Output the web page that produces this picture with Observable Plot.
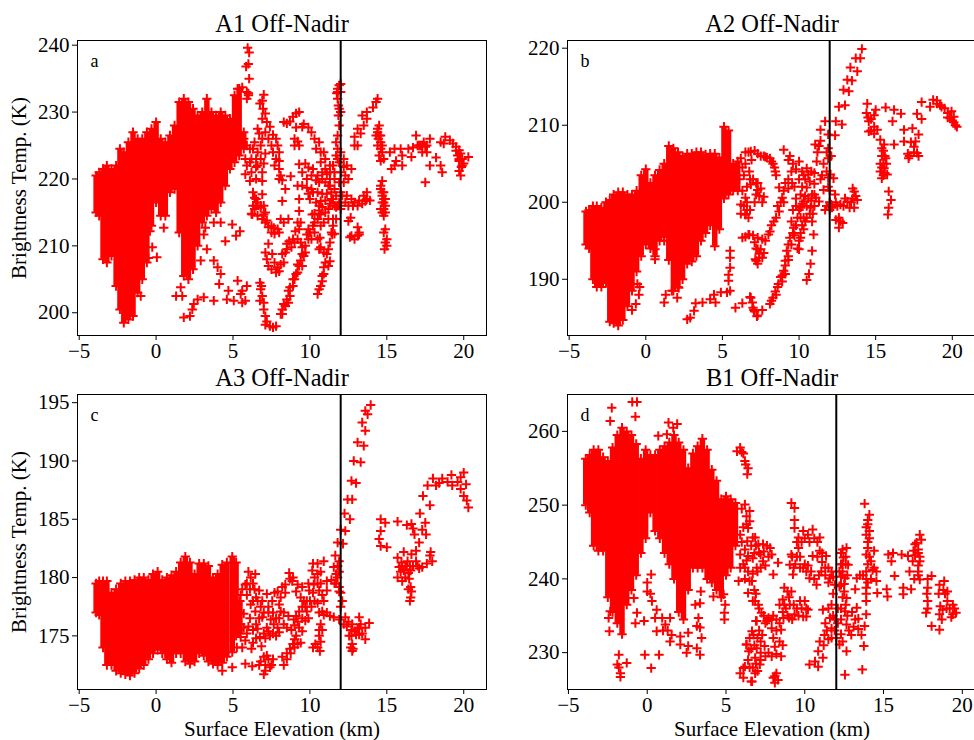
<!DOCTYPE html>
<html><head><meta charset="utf-8">
<script src="https://cdn.jsdelivr.net/npm/d3@7"></script>
<script src="https://cdn.jsdelivr.net/npm/@observablehq/plot@0.6"></script>
<style>html,body{margin:0;background:#fff;width:974px;height:740px;overflow:hidden}
#c{position:relative;width:974px;height:740px;overflow:hidden}
#c>div{position:absolute}#c svg{max-width:none!important;display:block}</style>
</head><body><div id="c"></div>
<script>
// Dense regions: [elevation, lowest temp, highest temp]
const a1Band=[[-3.9,215,220.5],[-3.7,214.5,221],[-3.45,208,221.5],[-3.2,207.5,222],[-2.9,208.5,221.5],[-2.6,204,222],[-2.35,200.5,224.5],[-2.1,198.5,224],[-1.8,199,225.5],[-1.5,199.5,227],[-1.2,203,226],[-0.9,205,226],[-0.6,207.5,227],[-0.3,213,227.5],[0,216.5,228.5],[0.3,214.5,226],[0.6,214.5,225.5],[0.9,218,226.5],[1.2,218.5,228],[1.5,212,231.5],[1.8,205.5,232],[2.1,205,231.5],[2.4,206.5,230.5],[2.7,210,229.5],[3,213.5,230],[3.3,214.5,232],[3.6,215.5,230],[3.9,215,229.5],[4.2,216.5,230],[4.5,219,229.5],[4.8,221.5,229],[5.1,222.5,232.5],[5.4,223.5,233.5],[5.7,224.5,227]];
const a1Points=[[5.95,239.6],[6.05,238.9],[5.85,236.8],[6,237.2],[6.05,235],[5.6,233.7],[5.3,233.5],[5.9,233],[6,232.5],[7,232.6],[6.9,231.7],[6.75,231.3],[6.95,230.5],[7.1,229.8],[6.9,229],[7.2,228.5],[7.4,227.8],[7.1,227],[6.7,226.8],[7.6,226.6],[7.8,226],[7.9,225],[8,224],[8,222.7],[8,221.5],[8.1,220.5],[8.3,228.5],[8.5,228.3],[8.7,228.6],[8.9,229.3],[9.1,229.8],[9.3,230],[9.1,227.7],[9.5,227.8],[9,225],[9.2,225.6],[9.3,225],[9,226],[9.6,228.2],[9.9,227.7],[10.1,227],[10.3,226],[10.6,225.5],[10.4,224.5],[10.7,224],[10.9,224],[11,223],[10.7,222.5],[11,221.5],[11.1,220.7],[11.3,220],[9.3,222.2],[9.7,222.3],[9.9,221.7],[10.2,221.5],[10.1,220.5],[10.4,219.8],[10.6,219.5],[11.8,233.5],[11.9,234],[12,234.2],[11.75,232.8],[11.8,232],[11.85,231],[11.9,230.5],[11.85,229.5],[12,230],[11.8,226.5],[11.7,225.5],[11.8,224.5],[11.7,223.5],[11.9,222.5],[12.2,221.8],[12.4,222],[12.7,221.5],[12.3,220.5],[12.2,219.5],[12.5,220],[12,221],[11.6,220],[11.9,219.5],[11.6,218.5],[12,218],[11.7,217.5],[11.9,216.5],[11.7,215.8],[12.1,217.5],[12.4,217.5],[12.7,217],[12.9,216.5],[13.2,216.8],[13.5,217.5],[13.7,218],[13.9,216.8],[13.4,216.3],[12.5,216],[10.2,218],[10.5,218],[10.8,217.8],[11.1,217.8],[11.4,218],[11.5,217],[11,216.8],[10.8,215.8],[11.2,215.5],[10.6,214.8],[10.3,214.8],[10.5,214],[11.5,214],[11.7,214],[12.65,214.2],[12.5,213.7],[13.1,212.8],[13.2,212],[13.1,211.5],[12.9,211],[12.7,211.5],[13.2,211.7],[12.6,211.3],[12.9,225],[13.1,225],[12.9,226.3],[13.3,226.8],[13.1,227.5],[13.5,228],[13.7,229],[13.4,229.5],[13.7,230],[14.1,230.7],[14.3,231.5],[14.4,232],[14.4,227],[14.3,226.5],[14.5,228],[14.45,226],[14.6,225.5],[14.4,225],[14.7,224],[14.5,223.5],[14.6,222.7],[14.8,223],[14.7,219.7],[14.6,218.5],[14.8,218],[14.7,217.5],[14.9,217],[14.7,216.5],[14.9,216],[14.8,215.5],[14.6,215.5],[14.8,214.5],[14.9,212.5],[14.8,212],[14.9,210.5],[15,210],[14.85,209.5],[15,211],[15.2,224],[15.5,224.5],[15.9,224.5],[15.6,222.7],[15.5,222],[15.3,221.5],[16,223.5],[16,222],[16.4,224.5],[16.7,224.7],[16.6,223.3],[17,225],[16.9,226.5],[17.2,225],[17.4,225.5],[17.6,224],[17.3,224],[17.8,226],[18.2,223.2],[18.5,222],[18.6,221],[17.8,222],[17.5,219.5],[18.5,225.5],[18.8,226.3],[18.7,225.3],[19.1,225.8],[19.3,225.3],[19.5,224.8],[19.7,224.3],[19.8,223.8],[19.9,223],[19.7,222.7],[20,222.3],[19.85,221.8],[19.7,221.2],[20.3,223.3],[19.8,220.5],[0.5,212.7],[0.05,208.3],[-0.5,208.2],[-0.25,209.8],[-0.4,212.2],[-1,202.5],[1.3,202.5],[1.6,203.8],[1.7,202.5],[2.9,207.8],[3.3,209.5],[3.75,207.8],[4,206.8],[4.2,205.8],[4.1,204.3],[3.75,201.8],[1.8,199.3],[2.2,199.5],[2.35,200.5],[2.7,202],[3.1,202.3],[2.45,201.3],[3.1,211.7],[3.2,212.7],[3.75,213.5],[4.2,213.5],[4.95,213.2],[5.45,212.2],[5.2,211.5],[4.5,210.7],[4.7,203.3],[5.3,204.8],[5.05,201.8],[4.6,202],[5.6,203.3],[5.9,204],[5.8,201.8],[5.6,201.5],[5.5,202.8],[6.75,201.8],[6.75,204.5],[6.8,203.5],[6.9,202.5],[6.85,204],[7,201.5],[7,200.5],[7.1,199.5],[7.2,198.7],[7.1,198.2],[7.4,198],[7.6,197.8],[7.8,198],[8.1,199.8],[8.2,199.8],[8.4,201],[8.5,202],[8.7,202.5],[8.6,203.3],[8.9,204],[9,205],[9.2,206],[9.3,207],[9.4,207.8],[9.5,208.8],[9.6,208.5],[9.7,210],[9.8,211.7],[9.9,211],[10,212],[10.15,214.7],[10.2,213],[10.7,216.7],[10.5,202.8],[10.7,204],[10.8,205.5],[10.9,206.8],[11.1,208.8],[11.3,210.5],[11.45,211.7],[10.65,211.2],[10.7,213],[10.7,214.7],[7.9,206.8],[7.55,208.8],[7.3,210.3],[8.2,208.8],[7.7,207.5],[8.1,207.2],[8.65,210.7],[8.9,211],[8.5,210.3],[9.05,212.2],[7.65,212.7],[8.1,214],[7,214.7],[6.4,217.2],[6.25,214.7],[6.8,215.7],[8.75,220.4],[8.4,218.5],[8.2,216.7],[6.9,219.7],[6.9,217.7],[6.1,219.7],[5.8,220.7],[9.3,215.2],[9.2,213.5],[9.3,217],[9.2,219],[7.1,213.5],[7.5,212],[7.9,212.5],[6.5,216],[6.6,214.5],[6.1,222.5],[6.6,222],[6.3,224.5],[6.8,225],[6.5,223],
[5.7,226],[5.9,225],[6.1,224.5],[6.4,225.5],[5.8,223],[6.2,223],[6.6,224],[6.8,223],[7,222.3],[6.5,221.8],[6.9,221],[5.9,222],[6.2,221],[6.5,220],[7.1,223.8],[6.6,227.5],[6.9,226],[7.3,226],[7.5,225],[7.6,224],[7.8,223],[7.7,222],[8,220],[8.2,219.8],[6.3,218],[6.5,217],[6.3,216],[6.4,215.5],[6.2,214.8],[6.6,216.5],[6.8,216],[7,216],[7.1,215],[6.9,214],[7.2,213.8],[7.3,212.8],[7.5,213],[7.7,211.8],[8,212],[8.3,213.5],[8.6,214],[7.1,209],[7.2,208],[7.3,207],[7.5,206.5],[7.8,206],[8,206.2],[8.3,207.5],[8.4,209],[8.5,209.5],[8.8,209.8],[9,210.5],[9.2,211],[9.3,212.5],[9.4,213.5],[10.8,221],[11,219.5],[11.3,219],[10.8,220],[10.5,220.5],[9.5,221],[9.8,220],[9.5,219],[9.8,218.7],[9.9,217.8],[10,217],[10.1,218.5],[10.4,216.5],[10.6,216],[11,215],[11.3,216.3],[11.6,216],[11.2,214],[10.9,213.5],[10.3,212],[10.5,211],[10.6,209.5],[10.9,209],[10.7,209.8],[11.5,213],[11.4,212],[11.6,211.8],[11.2,209.5],[11.3,207.7],[11.2,207],[10.8,204.7],[10.6,203.5],[10.9,205.8],[11,207.5],[9.1,205.8],[9.2,207.2],[8.9,205],[8.7,203.8],[8.3,201.3],[8.6,201.5],[8.2,200.5],[9.5,207],[9.7,209],[9.9,212.5],[10.1,211],[10.3,213.5],[10.6,215.3],[9.5,209.8],[9.4,210.5],[11.8,223],[12,224],[12.2,223],[11.5,222],[11.3,222],[11.6,221],[11.3,221],[11.2,219],[11.4,217],[12,216],[11.8,216],[12,215.5],[12.3,216.5],[12.8,216],[13.1,216],[13.6,216.7],[13.7,217],[11.9,228],[11.8,233],[12,233],[14.5,226.5],[14.6,226.5],[14.4,227.5],[14.7,225],[14.6,224.5],[14.6,219],[14.7,218],[14.8,217],[14.9,215],[14.8,216.5],[14.7,215],[19.5,224.2],[19.7,223],[19.6,223.5],[19.9,222],[17.3,225],[17.1,225],[17.5,224.8],[17.6,225],[5.9,232],[6,232.8]];
const a2Band=[[-3.9,194.5,198.8],[-3.7,194,199],[-3.45,190,199.5],[-3.2,189,199.5],[-2.9,189,199.3],[-2.6,189.5,200],[-2.35,184.5,200.3],[-2.1,184.3,201],[-1.8,184,201.3],[-1.5,184.7,201.3],[-1.2,186.5,201],[-0.9,188.5,201],[-0.6,191,201.5],[-0.3,193,203.5],[0,194.5,204.3],[0.3,194,202.5],[0.6,193,203.5],[0.9,195,204.2],[1.2,195.5,205],[1.5,192.5,207.3],[1.8,188.5,207],[2.1,189,206.5],[2.4,190,206],[2.7,192,206.3],[3,192.3,206.3],[3.3,193,206.5],[3.6,195,206.5],[3.9,196,206.2],[4.2,197,206.3],[4.5,194.3,206.3],[4.8,196.5,205.8],[5.1,200.5,209.8],[5.4,201,209.3],[5.7,201.5,205],[6,201.5,205.3]];
const a2Points=[[-0.55,189.4],[-0.45,188],[-0.65,186.8],[-0.9,186],[-0.4,189],[0.6,192.6],[0.6,193.9],[1.2,195],[1.2,187],[1.3,188],[1.7,188.5],[2.05,187.6],[2.15,188.9],[2.9,185],[2.7,184.8],[3.15,185.9],[3.25,186.9],[3.7,187],[4.2,187.4],[4.55,187],[4.45,188],[4.9,188.3],[5.3,188.3],[5.5,188.5],[5.4,189.8],[5.5,191.5],[5.5,192.8],[5.5,193.7],[5.4,190.6],[5.85,186.3],[6.3,186.9],[6.85,187.6],[7,186.3],[7.3,185.3],[6.95,187],[7.1,185.8],[6.8,187.7],[7.05,186],[7.25,185.2],[7.6,186],[6.3,195.4],[6.75,195.8],[7.3,195.4],[7.2,192.4],[7.3,193.9],[6.2,199.7],[6.5,198.4],[6.5,200.6],[6.75,204],[6.85,206.6],[6.2,205.7],[6.85,202.3],[7.3,201.6],[6.4,203.5],[6.8,199],[6.5,206.5],[7.1,206.7],[7.5,206],[8.1,205.7],[8.45,204],[8.3,205],[7.8,205.9],[7.3,202.5],[7.4,200.8],[6.6,200],[6.5,198.4],[6.7,195.8],[7.6,195.2],[8,195.8],[8.35,197.5],[8.7,198.8],[8.9,200.6],[8.7,201.9],[9.1,202.5],[9.55,202.5],[7.4,192.8],[7.5,193.9],[7.7,193.4],[7.15,192.6],[9,206.8],[9.3,205.5],[10,205.3],[10.5,204.4],[9.5,204],[10.5,201.9],[10.85,201],[10.3,200.1],[10.75,199.3],[11.3,200.1],[10.1,199.3],[10.4,203],[10.7,202.7],[11,202.4],[10.2,204],[11,203.8],[10.6,200.5],[11,199.5],[9.9,198],[9.65,196.7],[9.4,195.4],[9.2,193.7],[9.1,192.4],[9,191.1],[8.8,190.3],[8.65,189.4],[8.3,187.6],[8.45,188.4],[8.1,186.8],[10,193.9],[10.1,195.4],[9.8,197],[10.2,197],[10.85,197.5],[10.5,198],[10.95,195.8],[10.85,193.7],[10.75,192],[10.65,190.7],[10.5,189.9],[11.05,207.5],[11.4,209.4],[11.7,210.5],[11.9,208.8],[11.15,205.3],[11.9,205.7],[12.05,203.6],[12.25,203.1],[11.6,201.6],[11.9,202],[12,200],[11.8,206.5],[12.35,208.7],[12.4,210.5],[12.8,210.1],[12.6,212.4],[13,212.6],[12.9,214.6],[13.25,214.4],[13.15,215.9],[13.45,215.8],[13.35,217.5],[13.8,217],[13.7,218.7],[14,218.7],[14.1,219.9],[12.35,201],[12.7,199.7],[13.15,200.1],[13.6,201.4],[13.8,200.3],[13.6,199.3],[12.6,198],[12.85,197.3],[12.6,196.7],[12.15,199.3],[12.4,200],[13,200.5],[14.45,212.8],[14.4,211.6],[14.55,210.5],[14.55,209.2],[14.9,211.3],[15,212],[15.65,212.3],[15.1,209.4],[14.9,209.8],[15.3,208.1],[15.55,207.5],[15.65,205.7],[15.5,206.7],[15.55,204.4],[15.4,203.1],[15.3,204],[15.75,203.6],[15.7,205],[15.85,201.4],[16,200.3],[15.85,199.3],[15.8,198.4],[16.2,207.5],[16.1,210.5],[16.2,212],[16.65,211.5],[16.85,209.4],[16.85,207.9],[17.15,205.7],[17.4,209.6],[17.6,207.9],[17.8,208.8],[17.7,206.4],[17.3,207.8],[17.1,206.3],[17.7,211.5],[18,210.8],[18,213],[18.55,212.4],[18.75,213.3],[19,213.2],[19.2,212.6],[19.5,212.2],[19.95,211.8],[20.1,211.1],[20.3,209.8],[19.85,210.9],[19.7,211.6],[20.1,210.4],
[6.1,203],[6.3,204.5],[6.5,205],[6.6,202],[6.8,203],[7,203],[7.2,202.5],[7.5,201.8],[6.3,201.5],[6.4,199.5],[6.2,198.5],[6.7,198],[6.6,199],[7.1,200],[7.2,201],[7.7,200.7],[7.6,200],[6.9,205.5],[6.7,206.5],[7.3,206.3],[7.7,206],[7.9,205.8],[8.2,205.3],[8.4,204.5],[8.5,203.5],[6.5,195.5],[7,195.7],[7.1,194.8],[7.2,194],[7.4,193.3],[7.6,192.8],[7.3,192],[7.8,195],[8.1,196.2],[8.2,197],[8.5,198],[8.6,199.5],[8.8,200],[9,201.5],[9,200],[9.3,201.8],[9.3,203],[9.7,202],[9.5,197.5],[9.6,196],[9.3,194.5],[9.3,193],[9.1,191.8],[8.9,190.5],[8.6,189],[8.5,188],[8.2,187.2],[8.9,189.7],[9.1,190.7],[9.3,192.5],[9.5,194.5],[10,199],[10.2,199.8],[10.4,200.8],[10.5,199.5],[10.8,200.2],[11,201],[11.1,200.6],[10.7,198.5],[10.9,198.5],[10.3,198],[10.1,198],[10.3,196.5],[10.4,197.5],[10.1,196],[10,195],[9.9,194],[9.7,195.7],[9.6,199],[9.8,199.5],[9.8,200.5],[10.1,201],[10.2,202],[10,203],[9.8,204.3],[10.3,203.5],[10.6,203.6],[10.8,204],[9.6,205],[9.4,206],[11.2,206.5],[11.3,207.3],[11.4,208],[11.5,203.5],[11.6,205],[11.4,203],[11.9,207],[11.8,204],[11.9,203.2],[12.1,206],[12,201.5],[11.8,199.5],[11.7,199],[12,199],[12.1,199.7],[12.5,199.5],[12.9,199.5],[13.3,199.3],[13.4,200],[13.5,200.5],[13.7,200.8],[13.5,201.8],[12.4,197.7],[12.7,197.5],[15.4,207],[15.4,206],[15.6,206],[15.3,205],[15.5,205],[15.6,203.8],[15.4,204.5],[15.5,203.5],[14.5,211],[14.7,210.8],[14.7,209.3],[14.9,208.9],[17.5,207.2],[17.8,206],[17.5,206.5],[17.2,206],[19,212.8],[19.3,212.4],[19.7,211],[19.9,211],[20,210.6],[20.2,210]];
const a3Band=[[-3.9,177,179.5],[-3.7,176.8,179.7],[-3.45,174,179.7],[-3.2,172.5,179.7],[-2.9,172.5,178.7],[-2.6,172,179],[-2.3,171.8,179.5],[-2,171.7,179.7],[-1.7,171.6,179.7],[-1.4,171.8,179.8],[-1.1,172.2,180],[-0.8,172.5,180],[-0.5,173,179.8],[-0.2,173.5,180.3],[0.1,173.8,180.5],[0.4,173.5,179.8],[0.7,173,180],[1,172.7,180.2],[1.3,173.5,180.5],[1.6,173.5,181.3],[1.9,172.8,181.8],[2.2,172.6,181.3],[2.5,172.8,180.3],[2.8,173.5,181.2],[3.1,173.3,181.2],[3.4,172.8,181],[3.7,172.6,180],[4,172.5,180.3],[4.3,172.7,181.1],[4.6,173.2,181.3],[4.95,173.6,181.8],[5.2,175,181.3],[5.45,175.2,178]];
const a3Points=[[4.3,172],[4.95,172.3],[5.8,172.6],[6.25,172.4],[6.8,172.8],[7,173.2],[7.3,173],[7.6,173],[7.1,172],[7,171.7],[7.4,172.3],[6.7,172.5],[7.1,172.5],[7.5,172.5],[7.2,173.3],[8.3,172.5],[8.5,173],[8.75,173.5],[9,174],[9.2,174.3],[9.4,174.4],[9.5,175.4],[6.15,180],[5.8,179.4],[6.45,180.3],[6.3,179.5],[6,180.5],[6.7,178.9],[7.2,178.6],[6.9,178],[7.55,178],[7.3,177.5],[8,177.7],[8.2,179.2],[8.1,178.3],[8.1,177.1],[6.15,177.7],[6.45,177.1],[6.9,176.6],[7.65,176],[7.2,175.7],[6.75,174.9],[6.3,174.4],[6.85,174.1],[7.9,175.7],[8.3,176],[8.6,176.7],[8.95,176.4],[9.3,175.7],[5.7,175.7],[5.5,174.9],[5.25,174],[5.8,174.6],[5.7,176.9],[5.3,177.7],[6.6,175.6],[7.45,176.4],[7,175.2],[7.4,175],[5.9,178.5],[6.5,178.3],[8.65,180.4],[8.85,179.7],[9.2,179.4],[9.5,179.2],[9.95,178.9],[9.6,178],[9.3,177.1],[10,178],[9.8,177.1],[9.5,176.5],[10.25,179.4],[10.15,180.6],[10.5,181.2],[10.2,181.2],[10.9,181.4],[10.5,180.3],[10.6,178.9],[10.9,178],[11.1,178.9],[11.1,179.7],[11.55,180.9],[11.65,181.9],[11.9,181.4],[11.8,180],[11.9,179.2],[12.1,178],[12,178.7],[10.8,177.1],[11.1,177],[11.55,176.6],[11.9,176.4],[10.7,176],[10.6,175],[10.35,174.3],[10.65,173.7],[12.3,176.6],[12.75,176],[13.2,176.6],[13.1,175.6],[13.85,176.1],[13.6,175.7],[13.6,174.7],[12.55,175],[12.75,174.3],[12.75,173.7],[12.65,174],[13.2,175.1],[12.4,175.8],[11.8,183],[12.15,182.9],[12,184.1],[12.3,184],[12.25,185.5],[12.6,185],[12.45,186.7],[12.75,186.7],[12.7,188.3],[13,188.1],[12.85,190],[13.3,189.9],[13.1,191.6],[13.5,191.3],[13.4,193.3],[13.6,192.6],[13.6,194.3],[13.95,194.8],[13.75,194],[14.6,185],[14.9,184.7],[14.6,184],[14.5,183.3],[14.6,182.7],[15,182.6],[15.7,184.8],[16.3,184.5],[16.6,184.6],[16.8,183.7],[16.7,184.2],[17.3,184.1],[17.55,183.7],[17.5,184.7],[17.15,185.5],[17.1,183],[16.9,182.3],[15.7,181.7],[16.1,182.2],[16.35,181.4],[15.8,180.9],[16.1,180.6],[15.7,180],[16,179.7],[16.55,180.6],[16.9,181.4],[17.3,180.9],[17.85,182.2],[17.95,181.4],[16.55,179.2],[16.55,178.3],[16.45,179.9],[16.3,181],[15.95,181.3],[17.8,181.9],[16.6,182],[17.35,187],[17.8,186.2],[17.65,187.9],[18,188.5],[18.2,187.9],[18.6,188.5],[18.95,188.2],[19.2,188.8],[19.25,187.9],[19.8,188.6],[20,189],[20.15,188],[19.8,187.6],[20.2,186.6],[20.3,186],[20,187],[19.6,188.2],[18.4,188.1],
[5.5,178.5],[5.6,179],[5.9,179.5],[6.1,179],[6.4,179],[6.6,178],[6.3,178],[6.8,177.5],[7,177],[7.3,177],[7.6,177],[7.8,176.5],[7.7,178.7],[8,176.5],[7.9,178.8],[8.4,178.7],[8.3,177],[6.1,176.5],[6,175.8],[5.9,175.2],[6.3,175.5],[6.5,176],[6.7,176.5],[6.5,174.8],[6.2,173.9],[5.6,174],[5.5,176],[5.4,175.5],[5.4,177],[7.1,174.8],[7.3,175.4],[7.6,175.2],[7.8,175],[8,175.3],[8.5,175.7],[8.8,175.5],[9,175.9],[9.1,176.7],[9.2,176.2],[9.5,177.5],[9.7,177.5],[9.8,178],[9.9,179.5],[10.2,178.7],[10.3,178],[10.1,177.5],[9.9,176.5],[9.7,176.3],[9.4,178.3],[9.1,178.8],[8.9,180],[8.7,179.9],[8.4,179.4],[10.3,180],[10.5,179.5],[10.7,179.5],[10.7,180.5],[10.8,178.5],[10.5,177.8],[10.6,177],[10.9,176.8],[11.3,176.7],[10.8,175.5],[10.6,175.5],[10.7,174.5],[10.5,174],[10.2,174],[9,174.7],[8.5,173.5],[8.7,173.9],[9.1,175],[8.9,174.3],[8.2,173.2],[11.8,181],[11.7,180.3],[11.7,179.5],[11.9,178.8],[12,177.5],[11.6,179.5],[11.4,179.8],[11.9,180.5],[12.2,176],[12.5,176.2],[12.7,175.5],[12.9,175.4],[13,175.1],[13.3,176],[13.2,175.7],[13.4,175.2],[12.7,175],[12.8,173.9],[16.2,181],[16.2,180],[16.4,180.4],[16,181],[15.9,180.5],[16.5,181],[16.7,181],[16.4,179],[16.6,178.8],[16.5,178],[17,181],[17.1,180.8],[17.6,181.2]];
const b1Band=[[-3.9,250,256.3],[-3.65,249,256.8],[-3.4,244.5,257.5],[-3.1,243.8,257.5],[-2.8,243.8,256.5],[-2.5,237.5,256],[-2.2,235.5,257.8],[-1.9,234,259.5],[-1.6,232.5,260.5],[-1.3,236.5,260],[-1,238.5,259.5],[-0.7,240.5,258.3],[-0.4,243.5,256.3],[-0.1,245.5,257.5],[0.2,249,256.8],[0.5,246.5,256.8],[0.8,245.5,257.5],[1.1,243.5,258],[1.4,242,258.5],[1.7,240,259.5],[2,235.5,258.5],[2.3,234.5,257.5],[2.6,238.5,255],[2.9,241.5,257],[3.2,241.5,258],[3.5,241.5,259],[3.8,240,257.5],[4.1,239.5,254.8],[4.4,238.5,253.3],[4.7,237.5,250.8],[5,240.5,251.2],[5.3,241.5,250.8],[5.6,244.5,250.3]];
const b1Points=[[-2.25,263.2],[-0.95,264],[-0.65,264],[-0.75,262],[-2.35,261.4],[0.7,259.4],[1.25,259.6],[1.35,261.2],[1.9,261],[1.65,260.5],[5.9,257.8],[5.7,257.3],[6.1,257],[6.2,256],[6.4,255],[6.35,254.2],[6,257.2],[6.25,255.5],[-2.4,232.9],[-2.45,234.7],[-2.35,235.6],[-1.8,229.7],[-1.9,228.4],[-1.7,227.2],[-1.7,226.7],[-1.3,228.6],[-1.8,228],[-0.65,235.4],[-0.75,234],[-0.85,237.4],[-0.2,234.3],[-0.15,229.7],[0.75,229.7],[0.25,227.9],[0.25,240.6],[0,239.5],[0,238.3],[0.3,237],[0.6,235.8],[0.5,234.7],[0.95,234.7],[0.6,232.9],[1.15,233.8],[1.45,234.7],[1.55,232.4],[1.45,231.5],[1,233],[1.3,233],[0.2,238],[2.1,232.2],[2.1,231.1],[2.6,232.7],[2.6,230.9],[2.5,230],[3.15,230.6],[3.35,229.7],[3.45,232],[3.25,234.7],[3.35,233.4],[3.15,233.6],[3.35,236.7],[3.4,238.3],[3.05,236.5],[4.85,237.9],[4.95,236.5],[4.9,234.5],[4.9,235.4],[4.2,237.6],[5.9,227.2],[6.1,226.6],[6.65,226.1],[6.2,228.1],[6.45,230.2],[6.3,231.1],[6.65,232.9],[7,232],[6.9,234.3],[7.05,236.5],[6.3,247.4],[6.35,245.1],[6.85,245.6],[7.05,244.7],[6.4,243.1],[5.9,243.3],[5.9,241.5],[6.4,241],[6.95,241.5],[5.8,239.7],[6.65,239.7],[6.4,238.1],[6.85,237],[6.2,250.1],[6.5,249.2],[6.4,246.9],[6.7,245.6],[7.35,244.7],[7.8,244.2],[7.35,242.4],[7.9,243.3],[7,241],[6.2,241.5],[6.5,239.7],[8.3,242.2],[8,240.6],[6.7,237],[7.25,235.4],[6.95,234.3],[7.7,234.7],[7.9,233.3],[8.5,233.1],[8,232],[8.65,234.7],[8.4,236.5],[9.15,238.3],[8.7,238.8],[9.05,236.5],[9.7,237],[10.2,235.8],[9.9,234.9],[9.35,235.2],[8.8,236],[9.3,236.5],[6.3,231.1],[6.75,232.4],[6.95,230.6],[6.85,229.3],[7.15,228.4],[7.45,230.9],[7.9,229.5],[8.5,229.5],[8.4,231.5],[6.6,226.1],[6.1,227.9],[6.85,227.2],[8.1,226.8],[8.2,227.2],[8,226.6],[8.3,226.3],[8.1,225.9],[9.15,250.3],[9.35,249.6],[9.35,248],[9.35,246.9],[9.6,245.6],[9.9,246.5],[10.5,246.7],[10.2,246],[10.95,245.6],[9.6,244.2],[9.15,243.3],[9.05,241.9],[9.25,240.6],[9.9,241.5],[9.7,243],[10.3,240.1],[10.75,239.2],[10.1,241],[10.5,243.1],[10.95,243.8],[11.35,243.1],[11.5,241.5],[11.6,240.1],[11.9,239.2],[11.05,241],[11.7,236.5],[11.15,235.8],[11.6,234.7],[11.7,233.3],[11.25,232.4],[10.95,231.5],[11.9,233],[10.65,228.8],[10.3,228.4],[10.85,228.1],[11.15,229.3],[10.85,230.2],[12,232],[12.2,231.1],[12.65,230.2],[12.45,242.9],[12.65,244.2],[12.2,241],[12.55,240.1],[12.75,241.9],[12.3,239.2],[12.65,237.4],[12.55,235.6],[12.3,242],[12.5,238.3],[13.3,236.1],[13.2,234.5],[12.65,233.8],[12.95,232.4],[13.6,232.4],[13.8,233.6],[13.75,230.9],[12.55,227],[13.65,227.7],[13.8,250.2],[14.1,248.7],[14,247.4],[13.9,246],[14,244.2],[14.2,242.4],[14.4,243.8],[14.55,241],[14.55,239.7],[13.9,241],[13.9,238.8],[13.9,237],[13.9,235.2],[13.3,240.1],[13.2,238.6],[14.6,238.1],[15.2,238.6],[15.25,237.6],[15.3,243.3],[15.6,243.5],[15.5,242.4],[16.15,243.3],[16.55,243.1],[17,244.7],[17.3,246],[17.1,244.9],[17.4,245.3],[16.85,242.4],[17.3,242.4],[16.65,241],[17.2,241],[17.3,239.9],[16.75,238.6],[16.25,238.8],[16.25,237.9],[15.7,240.4],[18.05,240.4],[17.8,238.8],[17.8,237],[17.7,235.4],[18.05,233.6],[18.55,233.1],[18.55,235.2],[18.55,239.2],[18.85,239.7],[19.05,238.3],[19.05,237],[18.75,235.8],[19.4,236.5],[19.6,235.4],[19.4,235.2],[19.2,236],
[6,249.5],[6.3,248.5],[6.1,247],[6.5,247.8],[5.9,246],[6,245],[6.2,244],[6.6,244.5],[6.9,244.5],[7.1,243.6],[7.2,243.3],[6.7,242.8],[6.8,243.5],[6.3,242.5],[6.1,242],[7.4,243.7],[7.6,244.5],[7.7,243],[7.5,241.8],[7.2,241.5],[6.7,240.7],[6.2,240],[6.8,238.5],[6.9,238],[7.1,236],[7.4,235],[7.6,234.3],[7.5,234],[7.1,233],[7.3,232.4],[6.8,231],[6.6,230.5],[7.2,230],[7.2,229],[7.5,229.5],[7.7,230],[6.5,228],[6.7,228],[7,227.5],[6.9,228.5],[6.4,229],[6.5,232],[7.2,231.5],[8.1,230.8],[8.2,229.8],[8.6,231],[8.2,233],[8.4,234],[8.6,235.5],[8.7,236.5],[8.9,235],[9,234.7],[9.2,234.5],[9.5,236],[9.6,235],[9.8,236],[10,237],[10.1,236],[10.1,234.9],[9,237.5],[8.9,238.3],[8.6,237.2],[8.2,234.5],[8,235],[7.9,234.5],[9.2,243],[9.5,243],[9.4,242],[9.7,241.5],[9.5,245],[9.8,245],[10,245.5],[10.3,245],[10.6,245.5],[10.8,245],[10.8,243],[11.1,243.5],[11.1,242.3],[11.3,241.5],[11.3,240.5],[11.7,241],[11.8,240.3],[11.5,239.5],[10.9,240.5],[10.6,240],[10.4,241],[10.2,241.8],[10,242],[9.3,241.5],[11.8,235],[11.5,236],[11.3,234],[11.4,233],[11.7,232],[11.5,231.8],[11.2,231],[11.9,234.5],[11.8,238],[12.1,236],[12.1,234],[12.4,244],[12.3,243.5],[12.6,243],[12.4,242],[12.6,242],[12.4,241],[12.3,240.3],[12.7,240.5],[12.2,239],[12.5,239.3],[12.4,237.5],[12.6,236.5],[12.3,236],[12.3,234.5],[12.7,235],[13,235.5],[13.4,234.6],[13.1,233.5],[13.4,233.2],[12.8,233],[12.3,232.5],[12.4,231.5],[13.5,240.5],[13.7,240.5],[14,245],[14.1,246.5],[14,248],[13.9,247],[14.1,245.5],[14.1,243],[13.9,243.3],[14,242],[14.3,241.2],[14.2,240],[14,239.5],[13.9,240],[13.9,238],[14.4,241.5],[16.9,243.8],[17,243.2],[17.2,243.5],[17.2,244],[17.3,243],[17.2,241.8],[17.2,240.5],[16.95,240],[18.8,238.5],[18.9,238],[18.5,238],[17.8,240],[17.75,238],[17.8,236],[18.6,236.3],[18.7,234.5],[19,236],[19.5,236],[19.3,234.8]];
const xTicks=[-5,0,5,10,15,20];
const a1Ticks=[200,210,220,230,240], a2Ticks=[190,200,210,220], a3Ticks=[175,180,185,190,195], b1Ticks=[230,240,250,260];

const red="#ff0000", serif="'Liberation Serif', serif", W=409;
function panel(o){
  const pts=o.points.map(([x,y])=>({x,y}));
  const band=o.band.map(([x,lo,hi])=>({x,lo,hi}));
  const plus={symbol:"plus",r:3.1,stroke:red,strokeWidth:2};
  const fig=Plot.plot({
    width:77+W+3,height:o.h,marginLeft:77,marginRight:3,marginTop:40,marginBottom:o.h-335,
    style:{fontFamily:serif,fontSize:"21px",color:"#000",background:"transparent",overflow:"visible"},
    x:{domain:o.xd,ticks:xTicks,tickFormat:d3.format("d"),tickSize:5,tickPadding:3,label:o.xl?"Surface Elevation (km)":null,labelAnchor:"center",labelOffset:46,labelArrow:"none"},
    y:{domain:o.yd,ticks:o.yt,tickFormat:d3.format("d"),tickSize:5,tickPadding:3,label:o.yl?"Brightness Temp. (K)":null,labelAnchor:"center",labelOffset:66,labelArrow:"none"},
    marks:[
      Plot.ruleX(band,{x:"x",y1:"lo",y2:"hi",stroke:red,strokeWidth:5.5}),
      Plot.dot(band,{x:"x",y:"hi",...plus}),
      Plot.dot(band,{x:"x",y:"lo",...plus}),
      Plot.dot(pts,{x:"x",y:"y",...plus}),
      Plot.ruleX([12],{stroke:"#000",strokeWidth:2}),
      Plot.frame({stroke:"#000",strokeWidth:1}),
      Plot.text([o.title],{frameAnchor:"top",lineAnchor:"bottom",dy:-9,fontSize:24.5,fill:"#000"}),
      Plot.text([o.tag],{frameAnchor:"top-left",dx:13,dy:14,fontSize:18,fill:"#000"})
    ]});
  const d=document.createElement("div");
  d.style.left=o.left+"px";d.style.top=o.top+"px";d.style.width=(77+W+3)+"px";
  d.appendChild(fig);document.getElementById("c").appendChild(d);
}
panel({title:"A1 Off-Nadir",tag:"a",left:0,top:0,h:370,points:a1Points,band:a1Band,xd:[-5.11,21.48],yd:[196.6,240.7],yt:a1Ticks,yl:true});
panel({title:"A2 Off-Nadir",tag:"b",left:490,top:0,h:370,points:a2Points,band:a2Band,xd:[-5.11,21.58],yd:[182.7,221],yt:a2Ticks});
panel({title:"A3 Off-Nadir",tag:"c",left:0,top:354,h:386,points:a3Points,band:a3Band,xd:[-5.11,21.48],yd:[170.4,195.7],yt:a3Ticks,yl:true,xl:true});
panel({title:"B1 Off-Nadir",tag:"d",left:490,top:354,h:386,points:b1Points,band:b1Band,xd:[-5.06,20.9],yd:[225,265],yt:b1Ticks,xl:true});
</script></body></html>
